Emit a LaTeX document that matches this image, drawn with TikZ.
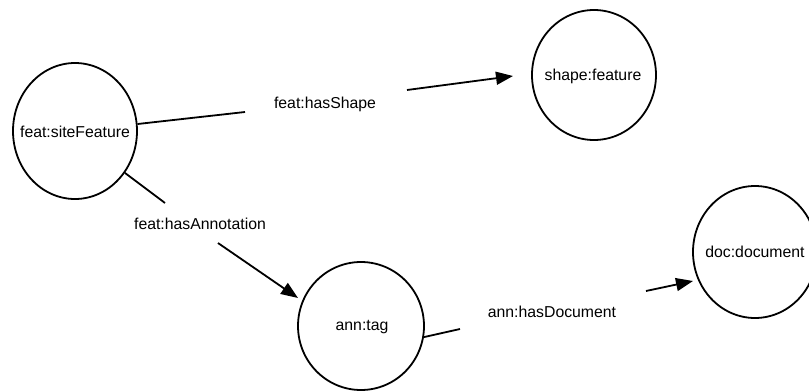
\documentclass[tikz,border=0pt]{standalone}
\usepackage{fontspec}
\setmainfont{Liberation Sans}
\usetikzlibrary{arrows.meta,shapes.geometric}
\begin{document}
\begin{tikzpicture}[x=1pt,y=-1pt,
  every node/.style={font=\fontsize{15.8}{19}\selectfont},
  concept/.style={ellipse,draw,line width=1.8pt,inner sep=0pt},
  link/.style={line width=1.8pt},
  arr/.style={line width=1.8pt,-{Triangle[length=17pt,width=13pt]}},
  lbl/.style={inner sep=0pt}]
\useasboundingbox (0,0) rectangle (809,391);
\node[concept,minimum width=124pt,minimum height=136pt] (sf) at (75,131) {};
\node at (75,132) {feat:siteFeature};
\node[concept,minimum width=124pt,minimum height=130pt] (sh) at (594,75) {};
\node at (593,76) {shape:feature};
\node[concept,minimum width=126pt,minimum height=128pt] (ann) at (361,326) {};
\node at (362,327) {ann:tag};
\node[concept,minimum width=124pt,minimum height=132pt] (doc) at (755,252) {};
\node at (755,252) {doc:document};
% edge 1
\coordinate (c1a) at (245,112);
\coordinate (c1b) at (407,90);
\coordinate (c1t) at (513,76);
\draw[link] (sf) -- (c1a);
\draw[arr] (c1b) -- (c1t);
\node[lbl] (l1) at (325,104) {feat:hasShape};
% edge 2
\coordinate (c2a) at (165,203);
\coordinate (c2b) at (218,243);
\coordinate (c2t) at (298,298);
\draw[link] (sf.-40) -- (c2a);
\draw[arr] (c2b) -- (c2t);
\node[lbl] (l2) at (200,224) {feat:hasAnnotation};
% edge 3
\coordinate (c3a) at (460,329);
\coordinate (c3b) at (646,291);
\coordinate (c3t) at (693,281);
\draw[link] (ann.-10) -- (c3a);
\draw[arr] (c3b) -- (c3t);
\node[lbl] (l3) at (552,312) {ann:hasDocument};
\end{tikzpicture}
\end{document}
